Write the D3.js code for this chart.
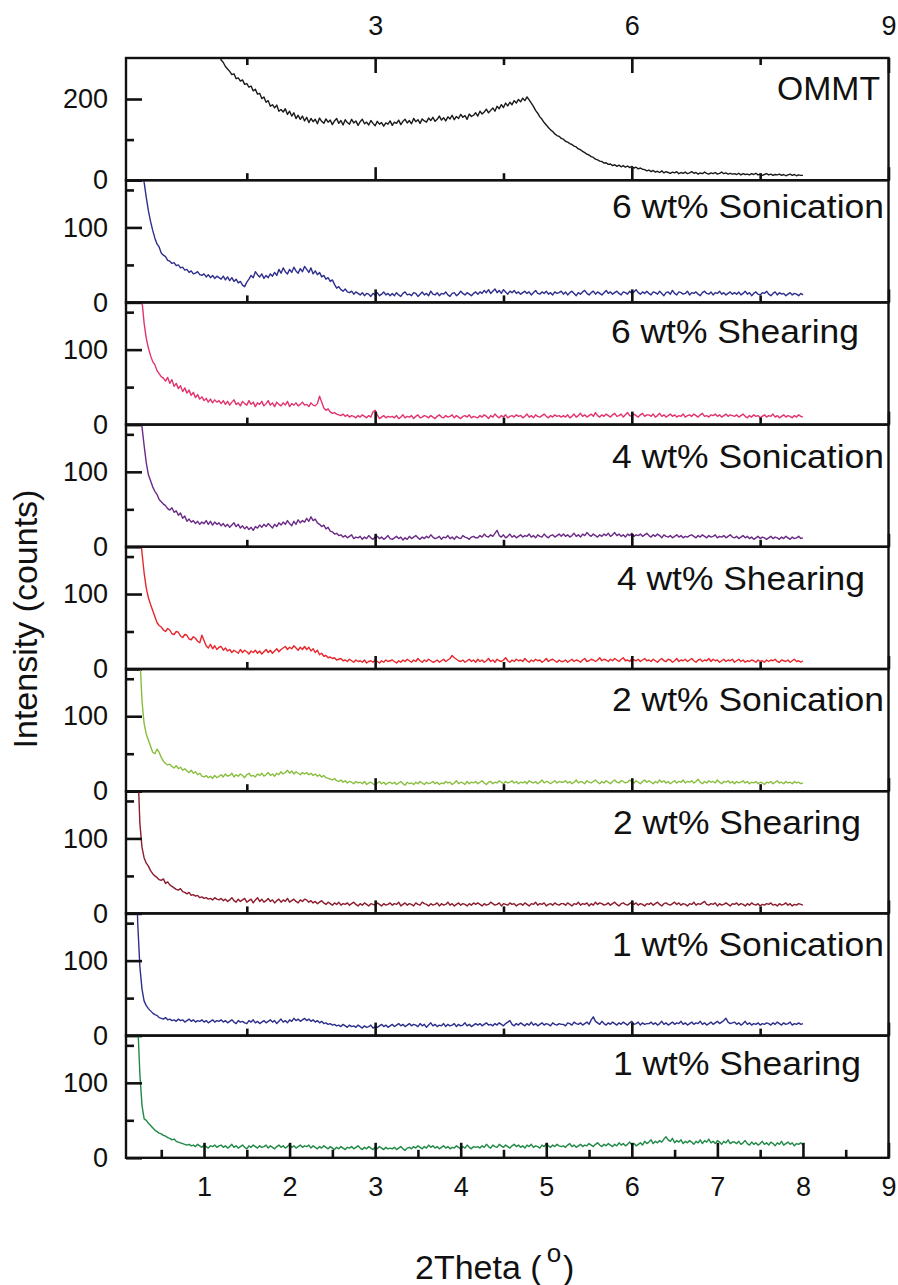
<!DOCTYPE html>
<html><head><meta charset="utf-8">
<script src="https://cdn.jsdelivr.net/npm/d3@7"></script>
<style>
body{margin:0;background:#fff;}
svg{display:block;font-family:"Liberation Sans",Arial,sans-serif;}
</style></head><body>
<svg id="chart" width="898" height="1285"></svg>
<script>
// ---------- DATA ----------
// sampling grids (2Theta, degrees), step 0.025
const gridOMMT = d3.range(275).map(i => +(1.15 + i * 0.025).toFixed(3));
const gridSample = d3.range(313).map(i => +(0.20 + i * 0.025).toFixed(3));

const panelLabels = ["OMMT", "6 wt% Sonication", "6 wt% Shearing", "4 wt% Sonication",
  "4 wt% Shearing", "2 wt% Sonication", "2 wt% Shearing", "1 wt% Sonication", "1 wt% Shearing"];
const panelColors = ["#1a1a1a", "#2e2f8c", "#e2336b", "#6a2a86", "#e8262b", "#86bd3a", "#8c1c2e", "#2e2f8c", "#1f8a45"];

const bottomTickLabels = [1, 2, 3, 4, 5, 6, 7, 8, 9];
const topTickLabels = [3, 6, 9];

const ommt = [
  330,312,296,290,280,274,268,260,262,250,252,244,247,236,238,229,232,220,224,212,214,201,205,192,196,182,186,178,185,170,174,168,176,162,170,158,166,152,160,150,
  158,146,155,142,152,144,150,139,153,145,140,151,143,148,137,146,152,140,147,136,149,142,138,150,141,146,135,144,150,139,143,136,147,140,134,145,138,142,133,141,
  138,146,135,143,140,148,137,145,150,141,147,139,152,144,149,140,151,146,143,153,147,155,145,150,158,148,154,146,156,151,160,149,157,152,162,155,159,150,163,157,
  160,166,158,170,163,168,175,166,172,178,170,182,176,186,179,190,183,192,186,196,190,199,193,202,196,205,198,190,182,172,165,156,150,142,136,130,124,120,114,110,
  108,103,101,96,94,90,88,84,82,77,75,71,68,64,62,58,56,52,50,47,46,42,43,39,40,36,38,34,37,33,36,32,35,31,34,30,32,28,30,27,
  26,23,25,21,24,20,22,19,23,18,21,19,17,20,18,21,16,19,17,20,16,18,21,17,19,15,18,16,20,17,15,18,16,19,15,17,20,16,18,15,
  17,15,16,14,17,13,16,14,15,13,16,14,17,13,15,12,14,16,13,15,12,14,13,15,12,14,11,13,15,12,14,11,13,12,12];

const sonication6 = [
  260,235,210,185,160,140,122,108,96,86,78,74,66,63,61,56,55,52,53,49,50,46,47,43,44,40,42,38,39,41,37,36,38,34,37,33,36,32,35,33,
  31,35,30,34,29,33,28,31,26,28,23,21,27,31,36,33,41,37,34,38,32,36,33,38,35,40,36,44,39,46,41,38,44,40,47,42,39,45,41,48,
  44,40,46,38,42,37,40,34,36,31,33,28,30,24,19,21,17,15,18,14,13,15,11,14,12,10,13,9,12,11,8,12,10,13,9,11,14,10,12,9,
  12,9,13,10,8,12,14,10,11,9,13,12,8,11,14,10,12,9,15,11,10,13,9,12,11,14,10,8,12,13,9,11,15,12,10,13,11,9,12,14,
  11,14,12,16,13,17,12,15,18,13,16,12,17,14,11,15,13,16,12,14,11,13,15,12,14,10,13,16,12,11,14,12,15,11,13,10,14,12,13,15,
  11,14,10,13,15,12,9,13,11,14,16,12,10,13,15,11,14,12,10,13,16,12,14,11,13,15,12,10,14,13,11,15,12,14,17,13,11,14,12,15,
  12,10,14,13,11,15,12,9,13,14,11,16,12,10,14,13,11,12,15,10,13,12,14,11,9,13,15,12,11,14,10,13,12,15,11,13,10,12,14,11,
  13,11,14,10,12,15,11,13,9,12,14,11,10,13,12,15,11,9,12,14,10,13,11,12,9,11,13,10,12,11,9,12,10];

const shearing6 = [
  300,240,205,165,135,115,102,92,84,80,72,68,64,62,58,63,55,60,51,55,48,52,44,49,42,46,39,43,36,40,34,37,32,35,30,34,29,33,30,32,
  28,32,27,31,26,30,33,27,29,25,31,28,26,32,27,30,24,29,27,31,25,28,32,26,29,24,30,27,25,29,26,31,24,28,26,29,25,27,30,26,
  27,24,29,26,25,28,38,30,22,19,21,17,15,16,14,13,12,14,11,13,10,12,11,9,12,10,13,11,9,12,10,17,19,13,8,10,12,9,11,10,
  11,9,12,8,10,13,9,11,10,12,8,11,13,9,10,12,11,9,12,10,8,11,13,10,9,12,10,11,13,9,12,10,8,11,12,10,13,9,11,10,
  9,12,10,13,11,8,12,10,14,11,9,12,10,13,9,11,12,10,13,11,12,9,11,14,10,12,9,13,11,10,12,14,11,9,12,10,13,11,12,10,
  12,10,13,9,11,14,10,12,15,11,13,10,12,14,11,16,12,10,13,11,14,12,10,13,15,11,12,14,10,13,16,12,11,14,12,10,13,15,11,13,
  13,11,14,10,12,15,11,13,10,12,14,11,13,10,12,11,14,10,12,13,11,14,12,10,13,15,11,12,10,13,12,14,11,13,10,12,14,11,13,12,
  11,13,10,12,14,11,9,12,10,13,11,12,9,11,13,10,12,11,14,10,12,9,11,13,10,12,11,9,12,10,13,11,10];

const sonication4 = [
  320,230,190,160,135,112,96,88,80,74,70,63,60,57,55,51,49,52,46,48,42,45,38,41,34,37,33,35,31,34,30,33,31,35,30,34,29,33,30,32,
  28,31,27,30,26,29,32,27,30,25,28,24,27,23,26,22,27,25,29,26,30,27,31,28,25,30,27,32,29,33,30,35,31,28,34,30,36,32,35,33,
  38,34,40,35,37,32,30,27,29,24,26,21,20,17,18,15,16,13,15,12,14,16,11,13,12,14,10,13,11,15,12,10,13,14,11,13,10,12,15,11,
  10,12,14,11,13,9,12,10,14,11,13,15,12,10,13,11,14,12,16,13,11,12,14,10,13,12,15,11,13,10,14,12,11,15,13,12,10,13,14,12,
  12,15,13,17,14,13,16,14,18,22,15,13,16,12,14,17,13,15,12,14,16,13,15,14,17,13,15,12,16,14,13,17,14,12,15,16,13,15,17,14,
  17,14,16,13,15,18,14,16,13,17,15,19,16,14,17,15,13,16,14,17,15,18,14,16,19,15,17,14,16,13,17,15,18,14,16,15,17,14,16,18,
  15,13,16,14,17,15,12,16,14,13,15,12,14,16,13,15,12,14,13,15,16,14,12,15,13,16,14,12,15,13,14,16,12,14,13,15,12,14,16,13,
  12,14,11,13,15,12,14,11,13,10,12,14,11,13,12,10,12,14,11,13,12,10,13,11,14,12,10,13,11,12,14,11,12];

const shearing4 = [
  320,230,190,155,128,108,95,86,78,70,62,58,56,52,50,54,52,47,46,50,49,44,42,46,45,40,39,43,41,37,35,45,38,31,28,33,27,31,26,29,
  30,25,28,24,26,22,25,23,21,26,22,25,23,20,24,22,25,21,24,20,23,26,22,25,21,24,27,23,26,28,30,26,29,27,31,28,25,29,26,30,
  26,29,24,27,22,25,19,21,17,18,15,16,14,15,12,13,14,11,12,10,13,11,9,12,10,11,9,12,8,10,11,9,12,10,8,11,9,12,10,11,
  12,10,8,11,9,12,10,13,11,9,12,10,14,11,9,12,10,13,11,9,10,12,9,11,13,10,12,14,18,15,13,11,10,12,9,11,13,10,12,9,
  13,10,12,9,11,14,10,12,9,13,11,10,12,15,11,9,12,10,13,11,12,10,14,11,9,12,10,13,11,12,9,11,14,10,12,13,11,9,12,10,
  10,12,9,11,13,10,12,11,9,12,14,10,11,13,12,10,12,15,11,13,12,10,13,11,14,12,10,13,15,11,12,10,14,12,11,13,10,12,14,11,
  12,10,13,11,9,12,14,11,10,13,12,9,11,14,10,12,11,13,10,12,14,11,9,12,13,10,12,11,14,10,13,11,12,9,11,13,10,12,11,13,
  9,11,13,10,12,9,11,10,12,11,9,12,10,11,9,12,10,12,11,13,10,9,12,11,10,12,9,11,13,10,11,9,11];

const sonication2 = [
  400,260,180,120,90,76,68,60,52,50,56,52,45,40,37,35,36,33,31,34,30,32,28,30,27,25,28,24,26,22,24,20,19,21,18,20,17,21,18,20,
  22,19,23,20,21,24,19,22,20,23,21,18,22,24,20,21,19,23,21,24,20,22,25,21,23,20,24,22,26,23,25,28,24,27,23,26,24,22,25,23,
  25,22,24,21,23,20,22,19,21,18,17,16,15,17,14,13,15,12,14,11,13,12,10,13,11,12,10,13,9,11,12,10,8,11,13,10,12,9,11,12,
  10,12,9,11,13,10,8,12,10,11,9,12,10,13,11,9,12,10,11,13,10,12,9,11,10,13,11,12,9,11,14,10,12,11,9,13,10,12,11,13,
  10,12,14,11,9,12,13,10,12,11,14,12,10,13,11,12,14,11,13,10,12,11,13,10,14,12,11,13,10,12,15,11,13,12,10,12,14,11,13,12,
  12,14,11,13,10,12,15,11,13,12,10,14,12,11,13,15,12,10,13,11,14,12,10,13,15,12,11,14,13,11,12,15,13,11,14,12,10,13,15,12,
  14,12,10,13,11,15,12,14,11,13,10,12,14,11,13,12,15,11,13,12,14,11,13,16,12,10,13,11,14,12,13,11,15,12,10,13,12,14,11,13,
  10,13,11,12,14,11,13,10,12,11,13,10,12,11,9,12,11,13,10,12,14,11,12,10,13,11,12,10,13,11,12,10,11];

const shearing2 = [
  350,200,120,88,74,67,63,57,53,50,48,45,44,46,40,42,38,36,34,32,31,33,29,28,26,28,24,25,23,24,21,22,20,21,19,20,18,21,19,18,
  20,17,19,16,18,21,17,15,19,16,18,20,15,17,19,14,18,21,16,19,15,17,20,16,18,14,17,19,15,18,16,20,15,17,19,16,14,18,16,19,
  18,15,17,14,16,13,15,17,14,12,15,13,11,14,12,15,11,13,12,14,11,13,15,12,10,13,11,14,12,10,13,12,11,14,12,10,13,11,12,14,
  11,13,12,15,10,12,14,11,13,12,10,14,12,11,15,13,12,10,13,11,12,14,10,13,11,12,15,11,13,10,12,14,11,13,12,10,13,11,14,12,
  14,12,10,13,11,12,15,13,11,12,14,10,13,12,11,14,12,13,10,12,13,11,14,12,10,13,12,15,11,13,12,14,10,12,13,11,14,12,11,13,
  13,11,14,12,10,13,12,15,11,13,12,14,10,13,11,15,12,14,13,11,12,14,11,13,15,12,10,13,14,12,11,13,15,12,14,11,13,12,10,13,
  12,14,11,13,15,12,10,13,14,12,11,13,15,12,14,11,13,12,10,13,12,15,11,13,12,14,16,12,11,13,12,14,10,13,11,12,14,12,10,13,
  12,14,11,13,12,10,13,11,14,12,11,13,10,12,11,13,12,14,11,12,10,13,11,12,14,11,13,10,12,11,13,12,11];

const sonication1 = [
  250,150,92,62,46,40,36,33,30,28,27,24,23,22,24,21,22,20,21,19,22,20,21,18,20,22,19,21,18,20,19,21,18,20,17,19,21,18,20,19,
  21,18,20,17,19,21,18,16,20,18,19,17,16,20,18,21,17,19,16,18,20,17,19,21,18,20,16,19,22,18,20,17,21,19,23,20,22,19,21,23,
  20,22,19,21,18,20,17,19,16,17,15,16,14,15,13,14,12,15,13,11,14,12,13,11,14,12,10,13,11,12,14,10,12,11,13,15,12,14,11,13,
  15,12,14,16,13,15,12,14,16,13,15,14,12,16,13,15,11,14,17,13,15,12,14,13,16,12,15,13,14,16,12,15,13,14,17,13,15,12,14,16,
  14,16,13,15,17,14,15,13,16,14,17,15,13,16,18,20,15,13,16,14,17,15,13,16,14,18,14,16,13,15,17,14,16,15,13,17,15,14,16,15,
  15,13,17,16,14,18,16,15,17,14,16,18,15,21,25,19,17,15,19,16,14,17,15,18,16,14,17,15,18,16,14,17,19,15,16,18,14,17,15,16,
  16,18,15,17,14,16,19,15,17,14,16,18,15,17,16,19,15,17,14,16,18,15,17,16,19,15,17,14,16,18,15,17,19,16,18,20,23,18,16,17,
  18,15,17,14,16,19,15,17,14,16,15,17,14,16,15,17,16,14,17,15,18,16,14,17,15,16,18,14,16,15,17,15,16];

const shearing1 = [
  300,180,112,70,52,50,46,43,40,37,35,33,32,30,29,27,26,24,25,22,21,20,19,18,17,18,16,17,15,18,16,14,17,15,13,16,15,17,14,16,
  17,14,16,13,15,18,14,16,13,15,17,14,12,16,14,17,15,13,16,14,15,17,13,16,14,12,15,17,14,16,13,15,18,14,16,13,15,17,14,16,
  15,17,13,16,14,12,15,13,16,14,12,15,13,11,14,12,15,13,11,14,13,15,12,14,16,13,11,14,12,15,13,11,14,12,15,13,11,14,12,13,
  12,14,11,13,15,12,10,13,14,12,15,13,16,14,12,15,13,17,14,16,13,15,12,14,16,13,15,12,14,13,16,14,12,15,13,17,14,12,15,14,
  15,13,16,14,18,15,13,17,15,14,18,16,14,17,15,13,16,18,15,17,14,16,13,17,15,18,14,16,15,13,17,15,19,16,14,17,15,18,16,15,
  16,14,17,19,15,17,14,16,18,15,17,16,19,17,15,18,20,17,15,18,16,19,17,15,18,16,20,17,19,16,18,21,17,19,16,18,20,17,22,19,
  21,24,19,22,20,23,21,25,28,24,22,26,20,23,21,24,19,22,20,23,21,18,22,20,24,19,23,21,25,20,22,19,23,21,18,22,20,24,19,21,
  21,19,22,18,20,23,19,17,21,18,20,17,19,22,18,20,17,21,19,16,20,18,22,17,19,21,18,20,16,19,18,20,17];

const seriesValues = [ommt, sonication6, shearing6, sonication4, shearing4, sonication2, shearing2, sonication1, shearing1];
const seriesGrids = [gridOMMT, gridSample, gridSample, gridSample, gridSample, gridSample, gridSample, gridSample, gridSample];
const yMaxima = [301, 163, 163, 163, 163, 163, 163, 163, 163];
const yMajorTicks = [[0, 200], [0, 100], [0, 100], [0, 100], [0, 100], [0, 100], [0, 100], [0, 100], [0, 100]];
const yMinorTicks = [[100], [50, 150], [50, 150], [50, 150], [50, 150], [50, 150], [50, 150], [50, 150], [50, 150]];

// ---------- LAYOUT ----------
const svg = d3.select("#chart");
const left = 126, right = 888.5, top0 = 58, ph = 122.2;
const n = panelLabels.length;
const titleX = [777, 612, 611, 612, 617, 612, 613, 612, 613];
const titleLen = [103, 272, 248, 272, 248, 272, 248, 272, 248];
const titleOff = [42, 38, 41, 43, 43, 42, 43, 43, 39];

const x = d3.scaleLinear().domain([0.088, 9]).range([left, right]);
const fmt = d3.format("d");

function styleAxis(g, fs) {
  g.select(".domain").remove();
  g.selectAll(".tick line").attr("stroke", "#111").attr("stroke-width", 2.6);
  g.selectAll(".tick text").attr("fill", "#111").style("font-size", fs + "px")
    .style("font-family", '"Liberation Sans", Arial, sans-serif');
}

const defs = svg.append("defs");

for (let i = 0; i < n; i++) {
  const t = top0 + i * ph, b = t + ph;
  const y = d3.scaleLinear().domain([0, yMaxima[i]]).range([b, t]);

  defs.append("clipPath").attr("id", "clip" + i)
    .append("rect").attr("x", left).attr("y", t).attr("width", right - left).attr("height", ph);

  const pts = seriesGrids[i].map((xv, k) => [xv, seriesValues[i][k]]).filter(d => d[1] !== undefined);
  svg.append("path")
    .attr("clip-path", `url(#clip${i})`)
    .attr("d", d3.line().x(d => x(d[0])).y(d => y(d[1]))(pts))
    .attr("fill", "none").attr("stroke", panelColors[i]).attr("stroke-width", 1.4)
    .attr("stroke-linejoin", "round");

  // left axis
  svg.append("g").attr("transform", `translate(${left},0)`)
    .call(d3.axisLeft(y).tickValues(yMajorTicks[i]).tickSize(-16).tickPadding(18).tickFormat(fmt))
    .call(g => styleAxis(g, 27));
  svg.append("g").attr("transform", `translate(${left},0)`)
    .call(d3.axisLeft(y).tickValues(yMinorTicks[i]).tickSize(-8).tickFormat(""))
    .call(g => styleAxis(g, 27));

  // bottom ticks
  if (i === n - 1) {
    svg.append("g").attr("transform", `translate(0,${b})`)
      .call(d3.axisBottom(x).tickValues(bottomTickLabels).tickSize(-15).tickPadding(19).tickFormat(fmt))
      .call(g => styleAxis(g, 27));
    svg.append("g").attr("transform", `translate(0,${b})`)
      .call(d3.axisBottom(x).tickValues(d3.range(0.5, 9, 1)).tickSize(-8).tickFormat(""))
      .call(g => styleAxis(g, 27));
  } else {
    svg.append("g").attr("transform", `translate(0,${b})`)
      .call(d3.axisBottom(x).tickValues([3, 6, 9]).tickSize(-13).tickFormat(""))
      .call(g => styleAxis(g, 27));
    svg.append("g").attr("transform", `translate(0,${b})`)
      .call(d3.axisBottom(x).tickValues([1.5, 4.5, 7.5]).tickSize(-7).tickFormat(""))
      .call(g => styleAxis(g, 27));
  }

  // frame
  svg.append("rect").attr("x", left).attr("y", t).attr("width", right - left).attr("height", ph)
    .attr("fill", "none").attr("stroke", "#111").attr("stroke-width", 2.4);

  // panel title
  svg.append("text").attr("x", titleX[i]).attr("y", t + titleOff[i])
    .attr("textLength", titleLen[i]).attr("lengthAdjust", "spacingAndGlyphs")
    .style("font-size", "33px").attr("fill", "#111").text(panelLabels[i]);
}

// top axis
svg.append("g").attr("transform", `translate(0,${top0})`)
  .call(d3.axisTop(x).tickValues(topTickLabels).tickSize(-15).tickPadding(23).tickFormat(fmt))
  .call(g => styleAxis(g, 27));
svg.append("g").attr("transform", `translate(0,${top0})`)
  .call(d3.axisTop(x).tickValues([1.5, 4.5, 7.5]).tickSize(-7).tickFormat(""))
  .call(g => styleAxis(g, 27));

// axis titles
svg.append("text").attr("transform", "translate(37,619) rotate(-90)")
  .attr("text-anchor", "middle").style("font-size", "34px").attr("fill", "#111")
  .text("Intensity (counts)");

const xt = svg.append("text").attr("x", 415).attr("y", 1279).style("font-size", "34px").attr("fill", "#111");
xt.append("tspan").text("2Theta (");
xt.append("tspan").attr("dx", 5).attr("dy", -17).style("font-size", "26px").text("o");
xt.append("tspan").attr("dx", 2).attr("dy", 17).text(")");
</script></body></html>
